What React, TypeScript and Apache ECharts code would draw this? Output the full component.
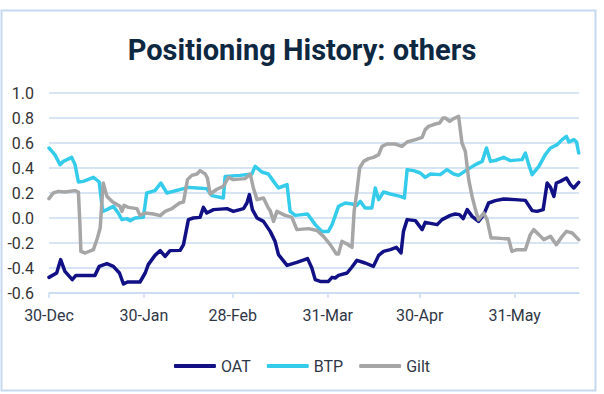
import React, { useEffect, useRef } from "react";
import * as echarts from "echarts";

// Day offsets counted from 30-Dec
const tickDays = [0, 31, 60, 91, 121, 152];
const tickLabels = ["30-Dec", "30-Jan", "28-Feb", "31-Mar", "30-Apr", "31-May"];
const lastDay = 173;

const seriesNames = ["OAT", "BTP", "Gilt"];

const oatDays = [0, 2.5, 3.8, 5.2, 7.6, 8.8, 15.0, 16.4, 18.9, 21.0, 23.0, 24.3, 25.6, 29.7, 31.4, 32.4, 34.6, 36.3, 37.9, 39.5, 42.8, 43.9, 45.5, 47.1, 49.3, 50.4, 51.5, 53.7, 58.1, 60.2, 63.5, 64.6, 65.4, 66.4, 67.9, 70.0, 72.2, 73.8, 74.9, 77.7, 80.9, 84.4, 85.8, 86.9, 88.5, 91.2, 92.4, 93.4, 94.5, 97.3, 98.9, 100.5, 103.2, 105.9, 107.6, 109.2, 111.4, 113.4, 114.9, 115.7, 116.9, 119.6, 121.8, 122.8, 126.7, 128.3, 131.0, 132.6, 134.0, 135.2, 136.5, 138.1, 140.2, 141.9, 143.5, 145.7, 148.4, 152.2, 155.5, 157.7, 159.3, 161.3, 162.6, 163.7, 164.8, 165.6, 166.9, 168.9, 170.2, 171.3, 172.9];
const oatValues = [-0.475, -0.44, -0.333, -0.427, -0.493, -0.459, -0.459, -0.387, -0.365, -0.387, -0.44, -0.528, -0.512, -0.512, -0.44, -0.373, -0.299, -0.261, -0.307, -0.261, -0.259, -0.213, -0.013, 0, 0.005, 0.085, 0.04, 0.067, 0.075, 0.053, 0.075, 0.12, 0.187, 0.067, 0, -0.027, -0.107, -0.187, -0.293, -0.379, -0.355, -0.325, -0.4, -0.493, -0.507, -0.507, -0.475, -0.48, -0.459, -0.44, -0.392, -0.339, -0.36, -0.387, -0.299, -0.267, -0.253, -0.235, -0.28, -0.107, -0.013, -0.021, -0.093, -0.035, -0.053, -0.013, 0.021, 0.032, 0.027, -0.005, 0.067, 0.013, -0.027, 0.027, 0.12, 0.139, 0.152, 0.147, 0.141, 0.059, 0.053, 0.067, 0.28, 0.245, 0.173, 0.28, 0.293, 0.32, 0.267, 0.24, 0.285];

const btpDays = [0, 1.9, 3.6, 4.7, 7.4, 8.5, 9.6, 11.2, 14.5, 16.4, 17.5, 18.9, 21.0, 22.6, 23.8, 25.4, 26.5, 28.1, 30.8, 31.9, 34.6, 36.5, 38.5, 45.5, 48.3, 51.5, 53.2, 56.9, 57.5, 62.4, 66.2, 67.3, 69.5, 71.6, 73.3, 74.9, 77.7, 78.7, 80.4, 82.6, 84.4, 86.9, 89.1, 91.2, 92.4, 94.5, 96.7, 98.9, 100.5, 101.6, 103.2, 105.4, 106.5, 107.6, 109.2, 111.4, 114.7, 116.0, 116.9, 119.0, 121.2, 122.8, 124.5, 127.7, 129.9, 132.1, 133.7, 136.5, 139.2, 141.4, 142.8, 144.1, 145.7, 148.4, 150.6, 154.4, 155.5, 156.6, 157.7, 159.9, 162.0, 163.7, 165.9, 167.5, 168.9, 169.7, 171.3, 172.2, 172.9];
const btpValues = [0.56, 0.507, 0.427, 0.453, 0.485, 0.427, 0.288, 0.293, 0.325, 0.288, 0.053, 0.067, 0.093, 0.04, -0.013, -0.005, -0.021, 0, 0.005, 0.2, 0.219, 0.28, 0.2, 0.245, 0.24, 0.235, 0.179, 0.16, 0.333, 0.341, 0.352, 0.413, 0.368, 0.352, 0.293, 0.24, 0.267, 0.053, 0.021, 0.027, 0.032, -0.053, -0.107, -0.107, -0.053, 0.093, 0.12, 0.112, 0.101, 0.133, 0.08, 0.08, 0.24, 0.147, 0.208, 0.192, 0.173, 0.16, 0.387, 0.379, 0.36, 0.325, 0.352, 0.347, 0.387, 0.352, 0.341, 0.387, 0.427, 0.453, 0.56, 0.453, 0.46, 0.485, 0.459, 0.467, 0.52, 0.427, 0.347, 0.413, 0.507, 0.56, 0.587, 0.627, 0.653, 0.608, 0.627, 0.608, 0.52];

const giltDays = [0, 1.4, 3.0, 5.2, 8.5, 9.6, 10.1, 10.4, 11.8, 14.5, 15.8, 16.7, 17.2, 17.7, 18.9, 20.8, 23.2, 23.8, 24.5, 25.9, 28.7, 29.7, 31.4, 34.1, 36.3, 37.9, 40.1, 42.6, 43.9, 45.2, 46.6, 48.3, 49.3, 51.0, 51.7, 52.6, 54.8, 56.9, 58.6, 60.2, 64.0, 65.7, 66.7, 67.9, 70.0, 71.6, 72.2, 73.3, 74.4, 77.1, 79.3, 80.9, 84.7, 87.5, 89.6, 91.8, 93.8, 94.5, 95.6, 97.3, 98.9, 99.6, 100.5, 101.4, 102.7, 104.3, 105.9, 107.6, 108.7, 110.3, 113.0, 115.2, 116.9, 119.6, 121.8, 122.8, 123.9, 126.1, 127.5, 128.6, 129.4, 130.8, 132.1, 133.7, 134.8, 135.9, 137.0, 138.1, 139.2, 140.2, 141.9, 143.0, 144.3, 145.7, 148.4, 150.0, 151.1, 152.7, 155.5, 157.1, 158.2, 159.9, 161.5, 163.7, 165.6, 167.5, 168.9, 170.8, 172.9];
const giltValues = [0.155, 0.2, 0.213, 0.208, 0.219, 0.208, -0.053, -0.267, -0.28, -0.253, -0.16, -0.08, 0.107, 0.28, 0.173, 0.128, 0.093, 0.053, 0.101, 0.085, 0.075, 0.021, 0.04, 0.032, 0.019, 0.053, 0.075, 0.12, 0.128, 0.307, 0.341, 0.352, 0.379, 0.352, 0.32, 0.192, 0.23, 0.253, 0.325, 0.307, 0.315, 0.352, 0.24, 0.147, 0.16, 0.08, 0.059, -0.027, 0.053, 0.021, 0.005, -0.093, -0.085, -0.1, -0.147, -0.213, -0.288, -0.288, -0.187, -0.208, -0.235, 0.053, 0.213, 0.4, 0.453, 0.475, 0.485, 0.507, 0.573, 0.592, 0.592, 0.573, 0.608, 0.627, 0.645, 0.707, 0.733, 0.752, 0.76, 0.8, 0.8, 0.773, 0.795, 0.813, 0.6, 0.533, 0.307, 0.173, 0.067, -0.013, 0.04, -0.013, -0.16, -0.16, -0.165, -0.165, -0.267, -0.253, -0.253, -0.133, -0.093, -0.133, -0.173, -0.147, -0.213, -0.147, -0.107, -0.12, -0.173];

const zip = (d: number[], v: number[]) => d.map((x, i) => [x, v[i]]);

const FONT = "Roboto, 'Noto Sans', sans-serif";
const GRID = "#c9dbf0";

export default function App() {
  const ref = useRef<HTMLDivElement>(null);
  useEffect(() => {
    if (!ref.current) return;
    const chart = echarts.init(ref.current, null, { renderer: "svg" });
    const colors = ["#111185", "#35ccec", "#a6a6a6"];
    const values = [zip(oatDays, oatValues), zip(btpDays, btpValues), zip(giltDays, giltValues)];
    chart.setOption({
      animation: false,
      backgroundColor: "#ffffff",
      textStyle: { fontFamily: FONT },
      title: {
        text: "Positioning History: others",
        left: "center",
        top: 30,
        textStyle: { fontFamily: FONT, fontSize: 29, fontWeight: "bold", color: "#0e2841" },
      },
      graphic: [
        {
          type: "rect",
          shape: { x: 1.5, y: 10.5, width: 594, height: 380 },
          style: { fill: "none", stroke: "#c6d9f1", lineWidth: 2 },
          silent: true,
        },
      ],
      grid: { left: 49, right: 25, top: 93, bottom: 101, containLabel: false },
      legend: {
        data: seriesNames,
        top: 353,
        left: "center",
        icon: "roundRect",
        itemWidth: 42,
        itemHeight: 4,
        itemGap: 16,
        textStyle: { fontFamily: FONT, fontSize: 16, color: "#2f3747" },
      },
      xAxis: [
        {
          type: "value",
          min: 0,
          max: lastDay,
          axisLine: { show: false },
          axisTick: { show: false },
          splitLine: { show: false },
          axisLabel: {
            customValues: tickDays,
            formatter: (v: number) => {
              const i = tickDays.indexOf(Math.round(v));
              return i >= 0 ? tickLabels[i] : "";
            },
            margin: 14,
            fontSize: 16,
            fontFamily: FONT,
            color: "#2f3747",
          },
        },
        {
          type: "value",
          min: 0,
          max: lastDay,
          position: "bottom",
          axisLine: { show: true, onZero: true, lineStyle: { color: GRID, width: 1.5 } },
          axisTick: { show: true, customValues: tickDays, length: 5, lineStyle: { color: GRID, width: 1.5 } },
          axisLabel: { show: false },
          splitLine: { show: false },
        },
      ],
      yAxis: {
        type: "value",
        min: -0.6,
        max: 1.0,
        interval: 0.2,
        axisLine: { show: false },
        axisTick: { show: false },
        splitLine: { lineStyle: { color: GRID, width: 1.5 } },
        axisLabel: {
          formatter: (v: number) => v.toFixed(1),
          margin: 15,
          fontSize: 16,
          fontFamily: FONT,
          color: "#333333",
        },
      },
      series: seriesNames.map((name, i) => ({
        name,
        type: "line",
        xAxisIndex: 0,
        data: values[i],
        symbol: "none",
        smooth: false,
        color: colors[i],
        itemStyle: { color: colors[i] },
        lineStyle: { width: 3.5, color: colors[i], cap: "round", join: "round" },
        z: 2 + i,
      })),
    });
    return () => chart.dispose();
  }, []);
  return <div ref={ref} style={{ position: "fixed", left: 0, top: 0, width: 604, height: 394 }} />;
}
